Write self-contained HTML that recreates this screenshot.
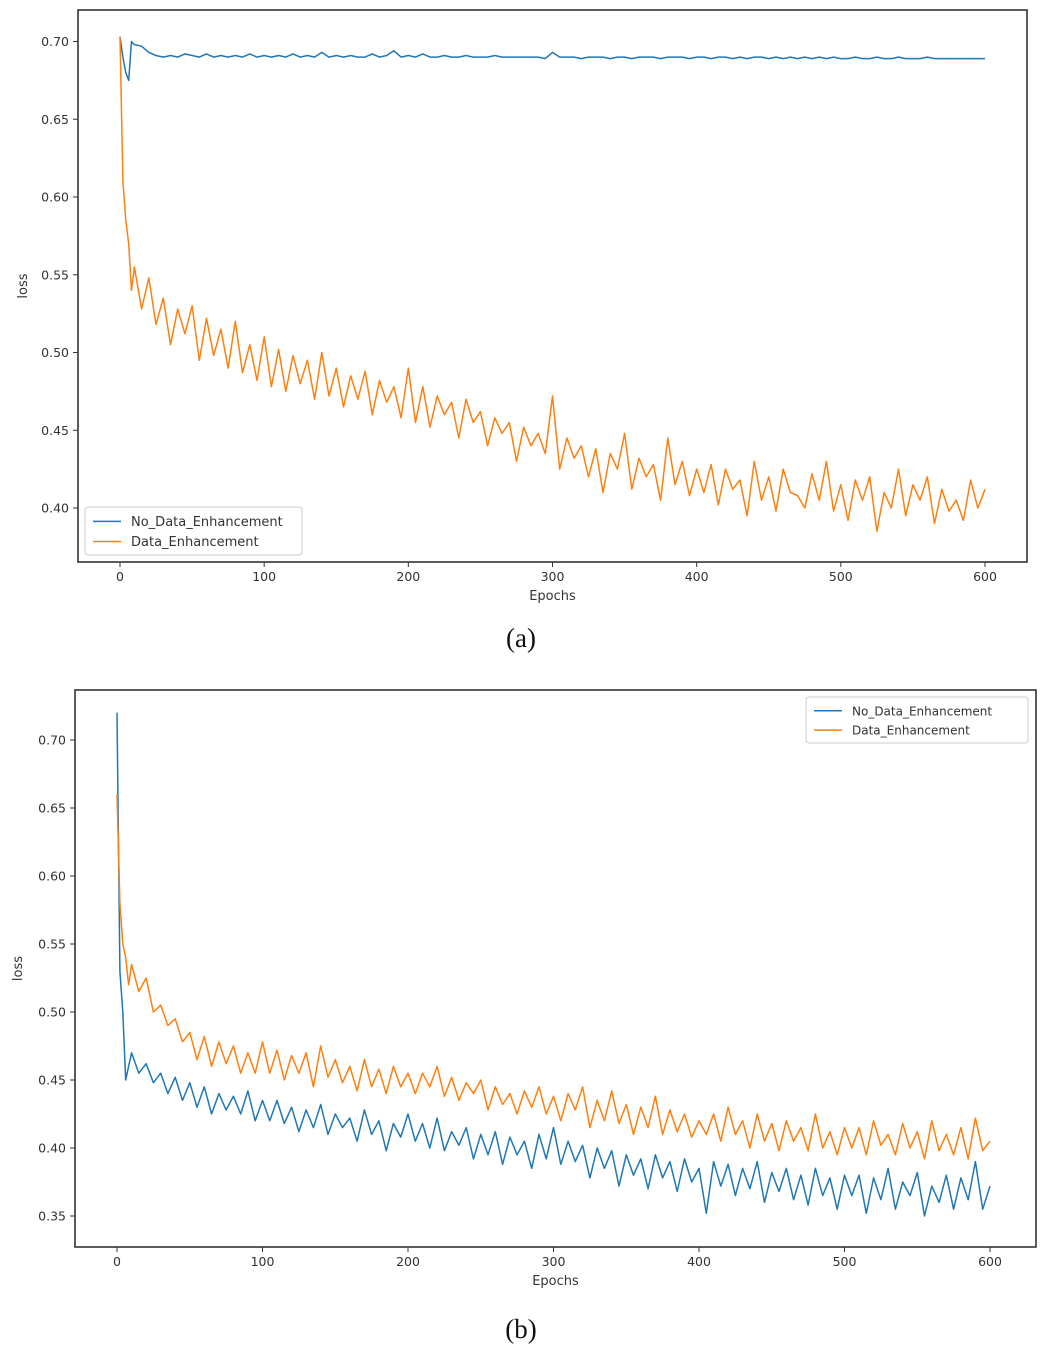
<!DOCTYPE html>
<html><head><meta charset="utf-8"><style>
body{margin:0;background:#fff;width:1046px;height:1357px;overflow:hidden}
svg{display:block;font-family:"DejaVu Sans","Liberation Sans",sans-serif}
</style></head><body>
<svg id="fig" width="1046" height="1357">
<text x="521" y="647" font-family="Liberation Serif,serif" font-size="27" text-anchor="middle" fill="#111">(a)</text>
<text x="521" y="1338" font-family="Liberation Serif,serif" font-size="27" text-anchor="middle" fill="#111">(b)</text>
</svg>
<script>
const epochs=[0,2,4,6,8,10];
for(let e=15;e<=600;e+=5)epochs.push(e);
const aBlue=[0.703,0.69,0.68,0.675,0.7,0.698,
0.697,0.693,0.691,0.69,0.691,0.69,0.692,0.691,0.69,0.692,0.69,0.691,0.69,0.691,0.69,0.692,0.69,0.691,
0.69,0.691,0.69,0.692,0.69,0.691,0.69,0.693,0.69,0.691,0.69,0.691,0.69,0.69,0.692,0.69,0.691,0.694,0.69,0.691,
0.69,0.692,0.69,0.69,0.691,0.69,0.69,0.691,0.69,0.69,0.69,0.691,0.69,0.69,0.69,0.69,0.69,0.69,0.689,0.693,
0.69,0.69,0.69,0.689,0.69,0.69,0.69,0.689,0.69,0.69,0.689,0.69,0.69,0.69,0.689,0.69,0.69,0.69,0.689,0.69,
0.69,0.689,0.69,0.69,0.689,0.69,0.689,0.69,0.69,0.689,0.69,0.689,0.69,0.689,0.69,0.689,0.69,0.689,0.69,0.689,
0.689,0.69,0.689,0.689,0.69,0.689,0.689,0.69,0.689,0.689,0.689,0.69,0.689,0.689,0.689,0.689,0.689,0.689,0.689,0.689];
const aOrange=[0.703,0.61,0.585,0.57,0.54,0.555,
0.528,0.548,0.518,0.535,0.505,0.528,0.512,0.53,0.495,0.522,0.498,0.515,0.49,0.52,0.487,0.505,0.482,0.51,
0.478,0.502,0.475,0.498,0.48,0.495,0.47,0.5,0.472,0.49,0.465,0.485,0.47,0.488,0.46,0.482,0.468,0.478,0.458,0.49,
0.455,0.478,0.452,0.472,0.46,0.468,0.445,0.47,0.455,0.462,0.44,0.458,0.448,0.455,0.43,0.452,0.44,0.448,0.435,0.472,
0.425,0.445,0.432,0.44,0.42,0.438,0.41,0.435,0.425,0.448,0.412,0.432,0.42,0.428,0.405,0.445,0.415,0.43,0.408,0.425,
0.41,0.428,0.402,0.425,0.412,0.418,0.395,0.43,0.405,0.42,0.398,0.425,0.41,0.408,0.4,0.422,0.405,0.43,0.398,0.415,
0.392,0.418,0.405,0.42,0.385,0.41,0.4,0.425,0.395,0.415,0.405,0.42,0.39,0.412,0.398,0.405,0.392,0.418,0.4,0.412];
const bBlue=[0.72,0.53,0.5,0.45,0.46,0.47,
0.455,0.462,0.448,0.455,0.44,0.452,0.435,0.448,0.43,0.445,0.425,0.44,0.428,0.438,0.425,0.442,0.42,0.435,
0.42,0.435,0.418,0.43,0.412,0.428,0.415,0.432,0.41,0.425,0.415,0.422,0.405,0.428,0.41,0.42,0.398,0.418,0.408,0.425,
0.405,0.418,0.4,0.422,0.398,0.412,0.402,0.415,0.392,0.41,0.395,0.412,0.388,0.408,0.395,0.405,0.385,0.41,0.392,0.415,
0.388,0.405,0.39,0.402,0.378,0.4,0.385,0.398,0.372,0.395,0.38,0.392,0.37,0.395,0.378,0.39,0.368,0.392,0.375,0.385,
0.352,0.39,0.372,0.388,0.365,0.385,0.37,0.39,0.36,0.382,0.368,0.385,0.362,0.38,0.358,0.385,0.365,0.378,0.355,0.38,
0.365,0.38,0.352,0.378,0.362,0.385,0.355,0.375,0.365,0.382,0.35,0.372,0.36,0.38,0.355,0.378,0.362,0.39,0.355,0.372];
const bOrange=[0.66,0.58,0.55,0.54,0.52,0.535,
0.515,0.525,0.5,0.505,0.49,0.495,0.478,0.485,0.465,0.482,0.46,0.478,0.462,0.475,0.455,0.47,0.455,0.478,
0.455,0.472,0.45,0.468,0.455,0.47,0.445,0.475,0.452,0.465,0.448,0.46,0.442,0.465,0.445,0.458,0.44,0.46,0.445,0.455,
0.44,0.455,0.445,0.46,0.438,0.452,0.435,0.448,0.44,0.45,0.428,0.445,0.432,0.44,0.425,0.442,0.43,0.445,0.425,0.438,
0.42,0.44,0.428,0.445,0.415,0.435,0.42,0.442,0.418,0.432,0.41,0.43,0.415,0.438,0.41,0.428,0.412,0.425,0.408,0.42,
0.41,0.425,0.405,0.43,0.41,0.42,0.4,0.425,0.405,0.418,0.398,0.42,0.405,0.415,0.398,0.425,0.4,0.412,0.395,0.415,
0.4,0.415,0.395,0.42,0.402,0.41,0.395,0.418,0.4,0.412,0.392,0.42,0.398,0.41,0.395,0.415,0.392,0.422,0.398,0.405];
const xTicks=[0,100,200,300,400,500,600];
const aYTicks=[0.40,0.45,0.50,0.55,0.60,0.65,0.70];
const bYTicks=[0.35,0.40,0.45,0.50,0.55,0.60,0.65,0.70];
const seriesNames=["No_Data_Enhancement","Data_Enhancement"];

const NS="http://www.w3.org/2000/svg";
const svg=document.getElementById('fig');
function mk(tag,attrs,parent){const el=document.createElementNS(NS,tag);for(const k in attrs)el.setAttribute(k,attrs[k]);(parent||svg).appendChild(el);return el;}

function chart(cfg){
  const g=mk('g',{});
  
  
  const x=e=>cfg.x0+(e/600)*(cfg.x600-cfg.x0);
  const y=v=>cfg.yA+(v-cfg.vA)/(cfg.vB-cfg.vA)*(cfg.yB-cfg.yA);
  const frame=mk('rect',{x:cfg.L,y:cfg.T,width:cfg.R-cfg.L,height:cfg.B-cfg.T,fill:'none',stroke:'#333','stroke-width':1.6},g);
  
  
  xTicks.forEach(t=>{
    mk('line',{x1:x(t),x2:x(t),y1:cfg.B,y2:cfg.B+5,stroke:'#333'},g);
    const tx=mk('text',{x:x(t),y:cfg.B+19,'font-size':12.5,'text-anchor':'middle',fill:'#333'},g);
    tx.textContent=t;
    
    
  });
  cfg.yTicks.forEach(t=>{
    mk('line',{x1:cfg.L-5,x2:cfg.L,y1:y(t),y2:y(t),stroke:'#333'},g);
    const tx=mk('text',{x:cfg.L-9,y:y(t)+4.5,'font-size':12.5,'text-anchor':'end',fill:'#333'},g);
    tx.textContent=t.toFixed(2);
    
    
  });
  const xl=mk('text',{x:(cfg.L+cfg.R)/2,y:cfg.B+38,'font-size':13,'text-anchor':'middle',fill:'#333'},g);
  xl.textContent='Epochs';
  
  
  const yl=mk('text',{x:0,y:0,'font-size':13,'text-anchor':'middle',fill:'#333',transform:`translate(${cfg.ylx},${(cfg.T+cfg.B)/2}) rotate(-90)`},g);
  yl.textContent='loss';
  
  
  const cols=['#1f77b4','#ff7f0e'];
  [cfg.blue,cfg.orange].forEach((d,i)=>{
    const p=mk('polyline',{points:d.map((v,k)=>x(epochs[k]).toFixed(1)+','+y(v).toFixed(1)).join(' '),fill:'none',stroke:cols[i],'stroke-width':1.5,'stroke-linejoin':'round'},g);
    
    
  });
  const lg=mk('g',{},g);
  
  
  const lb=cfg.legend;
  mk('rect',{x:lb.x,y:lb.y,width:lb.w,height:lb.h,fill:'#fff',stroke:'#ccc',rx:3},lg);
  seriesNames.forEach((n,i)=>{
    const yy=lb.y+lb.h*(i===0?0.3:0.72);
    mk('line',{x1:lb.x+8,x2:lb.x+36,y1:yy,y2:yy,stroke:cols[i],'stroke-width':1.5},lg);
    const t=mk('text',{x:lb.x+46,y:yy+4.5,'font-size':lb.fs,fill:'#333'},lg);
    t.textContent=n;
    
    
  });
}
chart({name:'chart-a',L:78,R:1027,T:10,B:562,x0:120,x600:985,yA:41.5,vA:0.70,yB:508,vB:0.40,yTicks:aYTicks,ylx:27,blue:aBlue,orange:aOrange,legend:{x:85,y:507,w:217,h:48,fs:13}});
chart({name:'chart-b',L:75,R:1036,T:690,B:1247,x0:117,x600:990,yA:740,vA:0.70,yB:1216,vB:0.35,yTicks:bYTicks,ylx:22,blue:bBlue,orange:bOrange,legend:{x:806,y:697,w:222,h:46,fs:12}});
</script>
</body></html>
